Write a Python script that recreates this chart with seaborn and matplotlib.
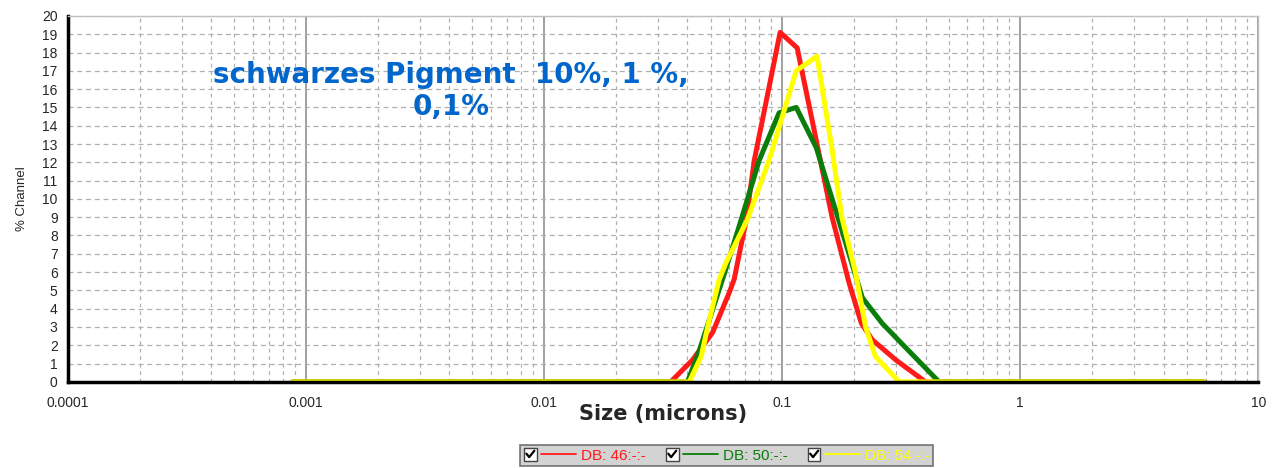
import numpy as np
import pandas as pd
import matplotlib
matplotlib.use("Agg")
import matplotlib.pyplot as plt
import seaborn as sns
from matplotlib.lines import Line2D
from matplotlib.patches import Rectangle
from matplotlib.legend_handler import HandlerBase
from matplotlib.ticker import LogLocator, FixedLocator, NullFormatter

# ---- data ----
red_x = [0.00088, 0.034, 0.042, 0.051, 0.060, 0.0628, 0.0706, 0.0763, 0.098, 0.1156, 0.139, 0.162, 0.191, 0.215, 0.239, 0.30, 0.40, 5.9]
red_y = [0, 0, 1.2, 2.7, 4.9, 5.6, 8.85, 12.1, 19.1, 18.25, 13.2, 9.0, 5.4, 3.2, 2.3, 1.2, 0, 0]
green_x = [0.00088, 0.040, 0.0448, 0.0571, 0.0672, 0.080, 0.097, 0.1145, 0.139, 0.174, 0.217, 0.263, 0.34, 0.456, 5.9]
green_y = [0, 0, 1.7, 5.9, 8.85, 12.1, 14.7, 15.0, 12.8, 8.7, 4.6, 3.2, 1.7, 0, 0]
yellow_x = [0.00088, 0.0407, 0.0457, 0.049, 0.0544, 0.058, 0.0713, 0.088, 0.1145, 0.140, 0.162, 0.178, 0.203, 0.224, 0.246, 0.31, 5.9]
yellow_y = [0, 0, 1.4, 3.2, 5.6, 6.5, 8.85, 12.1, 17.0, 17.8, 12.7, 9.0, 6.0, 3.0, 1.4, 0, 0]
series_names = ["DB: 46:-:-", "DB: 50:-:-", "DB: 54:-:-"]
series_colors = ["#ff1a1a", "#0a7d0a", "#ffff00"]
x_ticks = [0.0001, 0.001, 0.01, 0.1, 1, 10]
x_tick_labels = ["0.0001", "0.001", "0.01", "0.1", "1", "10"]
y_ticks = list(range(0, 21))
title_text = "schwarzes Pigment  10%, 1 %,\n0,1%"

df = pd.concat([
    pd.DataFrame({"x": red_x, "y": red_y, "s": series_names[0]}),
    pd.DataFrame({"x": green_x, "y": green_y, "s": series_names[1]}),
    pd.DataFrame({"x": yellow_x, "y": yellow_y, "s": series_names[2]}),
], ignore_index=True)

sns.set_style("white")
plt.rcParams["font.family"] = ["Liberation Sans", "DejaVu Sans"]

fig = plt.figure(figsize=(12.84, 4.68), dpi=100)
ax = fig.add_axes([0.053, 0.184, 0.927, 0.782])

ax.set_xscale("log")
ax.set_xlim(0.0001, 10)
ax.set_ylim(0, 20)

ax.xaxis.set_major_locator(FixedLocator(x_ticks))
ax.xaxis.set_minor_locator(LogLocator(base=10, subs=np.arange(2, 10), numticks=20))
ax.xaxis.set_minor_formatter(NullFormatter())
ax.set_xticks(x_ticks)
ax.set_xticklabels(x_tick_labels)
ax.set_yticks(y_ticks)
ax.grid(True, which="major", axis="x", color="#a0a0a0", lw=1.4, ls="-")
ax.grid(True, which="minor", axis="x", color="#b0b0b0", lw=0.9, ls=(0, (3, 3)))
ax.grid(True, which="major", axis="y", color="#b0b0b0", lw=0.9, ls=(0, (4, 3)))
ax.set_axisbelow(True)

sns.lineplot(data=df, x="x", y="y", hue="s", palette=series_colors,
             estimator=None, sort=False, lw=3.6, legend=False, ax=ax)

for side in ["left", "bottom"]:
    ax.spines[side].set_color("black")
    ax.spines[side].set_linewidth(2.5)
for side in ["top", "right"]:
    ax.spines[side].set_color("#c0c0c0")
    ax.spines[side].set_linewidth(1.0)

ax.tick_params(axis="both", which="major", labelsize=10, length=4, color="#555555", direction="out")
ax.tick_params(axis="x", which="major", pad=6)
ax.tick_params(axis="x", which="minor", length=0)
ax.set_xlabel("Size (microns)", fontsize=15, fontweight="bold", labelpad=-4, family="DejaVu Sans")
ax.set_ylabel("% Channel", fontsize=9.5, labelpad=10)

ax.text(0.322, 0.795, title_text, transform=ax.transAxes, ha="center", va="center",
        fontsize=20, fontweight="bold", color="#0066cc", family="DejaVu Sans",
        linespacing=1.15)


class HandlerCheckLine(HandlerBase):
    def create_artists(self, legend, orig_handle, xdescent, ydescent, width, height, fontsize, trans):
        s = height * 1.2
        x0 = -xdescent
        y0 = -ydescent + (height - s) / 2
        box = Rectangle((x0, y0), s, s, facecolor="white", edgecolor="#444444", lw=1.0, transform=trans)
        check = Line2D([x0 + 0.2 * s, x0 + 0.42 * s, x0 + 0.82 * s],
                       [y0 + 0.55 * s, y0 + 0.28 * s, y0 + 0.78 * s],
                       color="black", lw=1.6, transform=trans)
        ym = -ydescent + height / 2
        line = Line2D([x0 + s + 0.35 * s, x0 + width], [ym, ym], color=orig_handle.get_color(),
                      lw=1.3, transform=trans)
        return [box, check, line]


handles = [Line2D([], [], color=c) for c in series_colors]
leg = fig.legend(handles, series_names, handler_map={Line2D: HandlerCheckLine()},
                 ncol=3, loc="lower center", bbox_to_anchor=(0.566, 0.0), fontsize=11,
                 frameon=True, fancybox=False, facecolor="#c8c8c8", edgecolor="#555555",
                 handlelength=3.4, columnspacing=1.3, handletextpad=0.35, borderpad=0.25,
                 borderaxespad=0.1)
leg.get_frame().set_linewidth(1.2)
for t, c in zip(leg.get_texts(), series_colors):
    t.set_color(c)

fig.savefig("out.png", dpi=100)
